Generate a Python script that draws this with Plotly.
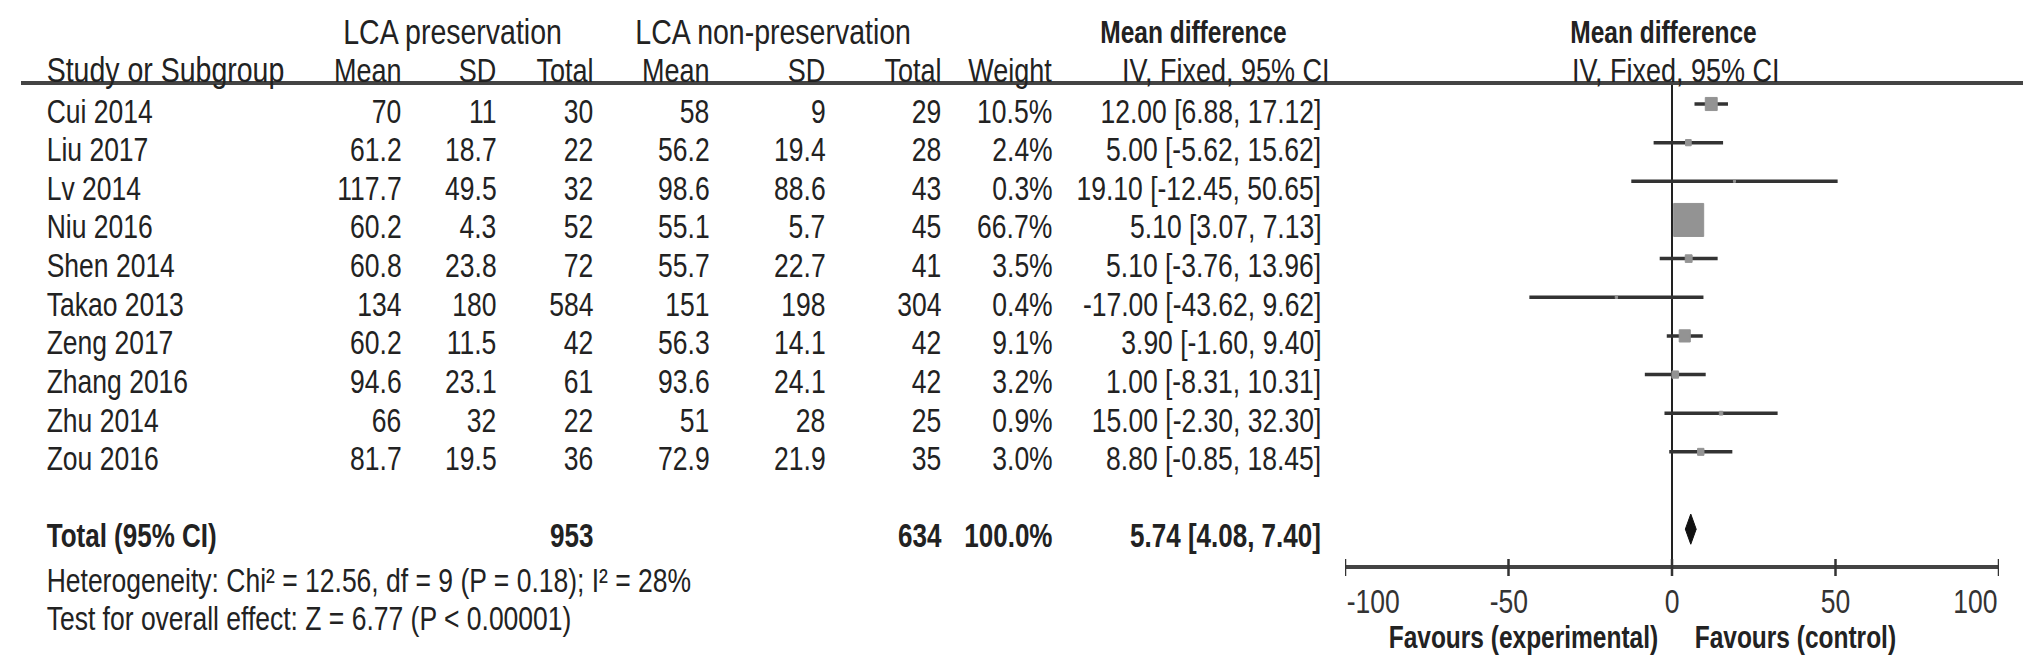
import plotly.graph_objects as go

# ---------------- data ----------------
studies = ["Cui 2014", "Liu 2017", "Lv 2014", "Niu 2016", "Shen 2014",
           "Takao 2013", "Zeng 2017", "Zhang 2016", "Zhu 2014", "Zou 2016"]
exp_mean = [70, 61.2, 117.7, 60.2, 60.8, 134, 60.2, 94.6, 66, 81.7]
exp_sd = [11, 18.7, 49.5, 4.3, 23.8, 180, 11.5, 23.1, 32, 19.5]
exp_n = [30, 22, 32, 52, 72, 584, 42, 61, 22, 36]
ctl_mean = [58, 56.2, 98.6, 55.1, 55.7, 151, 56.3, 93.6, 51, 72.9]
ctl_sd = [9, 19.4, 88.6, 5.7, 22.7, 198, 14.1, 24.1, 28, 21.9]
ctl_n = [29, 28, 43, 45, 41, 304, 42, 42, 25, 35]
weight = [10.5, 2.4, 0.3, 66.7, 3.5, 0.4, 9.1, 3.2, 0.9, 3.0]
md = [12.00, 5.00, 19.10, 5.10, 5.10, -17.00, 3.90, 1.00, 15.00, 8.80]
ci_lo = [6.88, -5.62, -12.45, 3.07, -3.76, -43.62, -1.60, -8.31, -2.30, -0.85]
ci_hi = [17.12, 15.62, 50.65, 7.13, 13.96, 9.62, 9.40, 10.31, 32.30, 18.45]

total_label = "Total (95% CI)"
total_exp_n = 953
total_ctl_n = 634
total_weight = 100.0
total_md = 5.74
total_lo = 4.08
total_hi = 7.40

heterogeneity = "Heterogeneity: Chi² = 12.56, df = 9 (P = 0.18); I² = 28%"
overall = "Test for overall effect: Z = 6.77 (P < 0.00001)"

tick_vals = [-100, -50, 0, 50, 100]
tick_text = ["-100", "-50", "0", "50", "100"]

# ---------------- layout helpers ----------------
W, H = 2031, 657
FONT = "Liberation Sans, Arial, sans-serif"
TXT = "#222222"
NARROW = 0.8                     # horizontal condensing applied to all texts
FS = 26.5 / NARROW               # body text
FS_H1 = 28.5 / NARROW            # group headers
FS_H2 = 27 / NARROW              # column headers
FSB = 24.5 / NARROW              # bold small headers
FS_TOT = 26 / NARROW             # bold total row


def px(x):
    return x / W


def py(y):
    return 1 - y / H


ROW0, ROWH = 96, 38.65          # pixel of first row, row height
TOTAL_ROW = len(studies) + 1
TEXT_SHIFT = -7

fig = go.Figure()

# CI lines
xs, ys = [], []
for i in range(len(studies)):
    xs += [ci_lo[i], ci_hi[i], None]
    ys += [i, i, None]
fig.add_trace(go.Scatter(x=xs, y=ys, mode="lines",
                         line=dict(color="#333333", width=3.5),
                         hoverinfo="skip", showlegend=False))

# weight squares
KX, KY = 0.562, 0.0523
sx, sy = [], []
for i in range(len(studies)):
    hw = KX * weight[i] ** 0.5
    hh = KY * weight[i] ** 0.5
    sx += [md[i] - hw, md[i] + hw, md[i] + hw, md[i] - hw, md[i] - hw, None]
    sy += [i - hh, i - hh, i + hh, i + hh, i - hh, None]
fig.add_trace(go.Scatter(x=sx, y=sy, mode="lines", fill="toself",
                         fillcolor="#939393", line=dict(color="#939393", width=1),
                         hoverinfo="skip", showlegend=False))

# diamond
DH = 0.39
fig.add_trace(go.Scatter(
    x=[total_lo, total_md, total_hi, total_md, total_lo],
    y=[TOTAL_ROW, TOTAL_ROW - DH, TOTAL_ROW, TOTAL_ROW + DH, TOTAL_ROW],
    mode="lines", fill="toself", fillcolor="#111111",
    line=dict(color="#111111", width=1), hoverinfo="skip", showlegend=False))

annotations = []


def ann(text, x, y, xanchor="right", yref="y", size=FS, bold=False, yshift=0,
        xref="paper", color=TXT):
    if bold:
        text = "<b>" + text + "</b>"
    annotations.append(dict(text=text, x=x, y=y, xref=xref, yref=yref,
                            xanchor=xanchor, yanchor="middle", showarrow=False,
                            yshift=yshift,
                            font=dict(family=FONT, size=size, color=color)))


# column right edges (pixels)
col_x = [395, 490, 587, 703, 819, 935, 1046, 1315]

for i, s in enumerate(studies):
    ann(s, px(37), i, "left", yshift=TEXT_SHIFT)
    vals = [f"{exp_mean[i]:g}", f"{exp_sd[i]:g}", f"{exp_n[i]}",
            f"{ctl_mean[i]:g}", f"{ctl_sd[i]:g}", f"{ctl_n[i]}",
            f"{weight[i]:.1f}%",
            f"{md[i]:.2f} [{ci_lo[i]:.2f}, {ci_hi[i]:.2f}]"]
    for v, cx in zip(vals, col_x):
        ann(v, px(cx), i, "right", yshift=TEXT_SHIFT)

# total row
ann(total_label, px(37), TOTAL_ROW, "left", size=FS_TOT, bold=True, yshift=TEXT_SHIFT)
ann(f"{total_exp_n}", px(col_x[2]), TOTAL_ROW, size=FS_TOT, bold=True, yshift=TEXT_SHIFT)
ann(f"{total_ctl_n}", px(col_x[5]), TOTAL_ROW, size=FS_TOT, bold=True, yshift=TEXT_SHIFT)
ann(f"{total_weight:.1f}%", px(col_x[6]), TOTAL_ROW, size=FS_TOT, bold=True,
    yshift=TEXT_SHIFT)
ann(f"{total_md:.2f} [{total_lo:.2f}, {total_hi:.2f}]", px(col_x[7]), TOTAL_ROW,
    size=FS_TOT, bold=True, yshift=TEXT_SHIFT)

# header rows
ann("LCA preservation", px(444), py(24), "center", yref="paper", size=FS_H1)
ann("LCA non-preservation", px(765), py(24), "center", yref="paper", size=FS_H1)
ann("Mean difference", px(1185), py(24), "center", yref="paper", size=FSB, bold=True)
ann("Mean difference", px(1655), py(24), "center", yref="paper", size=FSB, bold=True)

ann("Study or Subgroup", px(37), py(62), "left", yref="paper", size=FS_H1)
for lab, cx in zip(["Mean", "SD", "Total", "Mean", "SD", "Total", "Weight"], col_x[:7]):
    ann(lab, px(cx), py(62), "right", yref="paper", size=FS_H2)
ann("IV, Fixed, 95% CI", px(1218), py(62), "center", yref="paper", size=FS_H2)
ann("IV, Fixed, 95% CI", px(1668), py(62), "center", yref="paper", size=FS_H2)

# footer
ann(heterogeneity, px(37), py(572), "left", yref="paper")
ann(overall, px(37), py(610), "left", yref="paper")

# tick labels (end labels aligned inward)
for v, t in zip(tick_vals, tick_text):
    xa = "left" if v == min(tick_vals) else ("right" if v == max(tick_vals) else "center")
    ann(t, v, py(593), xa, yref="paper", xref="x", color="#333333")

ann("Favours (experimental)", px(1652), py(629), "right", yref="paper", size=FSB, bold=True)
ann("Favours (control)", px(1685), py(629), "left", yref="paper", size=FSB, bold=True)

shapes = []
# header line
shapes.append(dict(type="line", xref="paper", yref="paper", x0=px(13), x1=px(2017),
                   y0=py(75), y1=py(75), line=dict(color="#444444", width=4)))
# zero line
shapes.append(dict(type="line", xref="x", yref="paper", x0=0, x1=0,
                   y0=py(75), y1=py(559), line=dict(color="#222222", width=2),
                   layer="below"))
# axis line
shapes.append(dict(type="line", xref="x", yref="paper", x0=min(tick_vals), x1=max(tick_vals),
                   y0=py(559), y1=py(559), line=dict(color="#444444", width=4)))
for v in tick_vals:
    shapes.append(dict(type="line", xref="x", yref="paper", x0=v, x1=v,
                       y0=py(551), y1=py(568), line=dict(color="#333333", width=2.5)))

n_top = -ROW0 / ROWH
n_bot = (H - ROW0) / ROWH

fig.update_layout(
    width=W, height=H,
    margin=dict(l=0, r=0, t=0, b=0),
    paper_bgcolor="white", plot_bgcolor="white",
    xaxis=dict(domain=[px(1337), px(1991)], range=[-100, 100], visible=False,
               fixedrange=True),
    yaxis=dict(domain=[0, 1], range=[n_bot, n_top], visible=False, fixedrange=True),
    annotations=annotations, shapes=shapes, showlegend=False,
)

# condense every text horizontally about its anchor (Arial Narrow look)
post_js = """
var gd = document.querySelector('.js-plotly-plot');
var s = %s;
function condense() {
  gd.querySelectorAll('g.annotation').forEach(function (g) {
    var idx = +g.getAttribute('data-index');
    var a = gd._fullLayout.annotations[idx];
    g.removeAttribute('transform');
    var bb = g.getBBox();
    var ax = bb.x + bb.width / 2;
    if (a.xanchor === 'left') { ax = bb.x; }
    else if (a.xanchor === 'right') { ax = bb.x + bb.width; }
    g.setAttribute('transform', 'translate(' + ax + ',0) scale(' + s + ',1) translate(' + (-ax) + ',0)');
  });
}
condense();
gd.on('plotly_afterplot', condense);
""" % NARROW

fig.write_html("out.html", post_script=post_js)
